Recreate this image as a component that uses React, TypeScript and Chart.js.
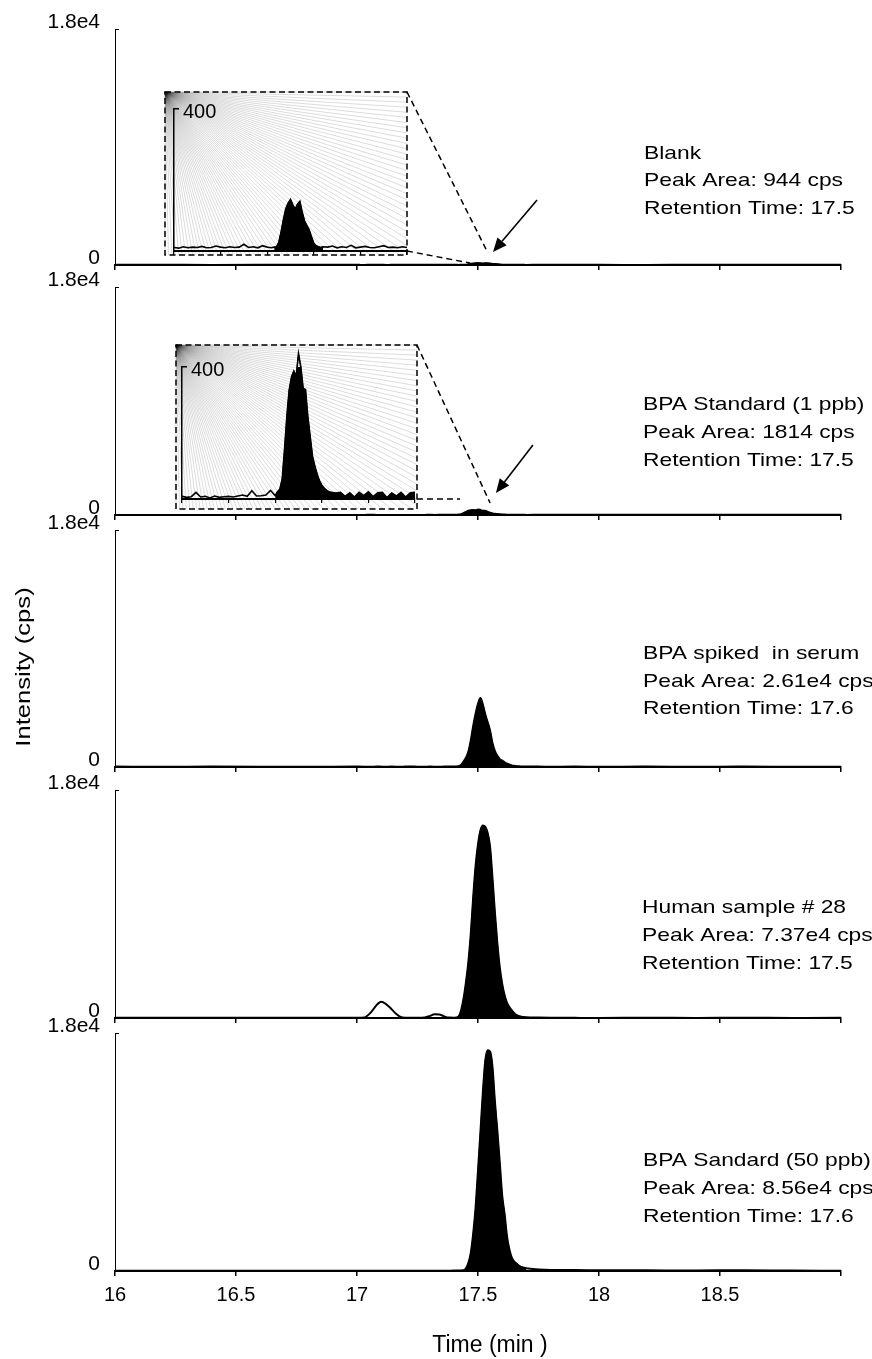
import React, { useEffect, useRef } from "react";
import { Chart, registerables } from "chart.js";
Chart.register(...registerables);

const FONT = '"Liberation Sans", Arial, Helvetica, sans-serif';
Chart.defaults.font.family = FONT;
Chart.defaults.color = "#000";

// ---------------- data ----------------
const TIME = [
  16.0, 16.2, 16.4, 16.6, 16.8, 17.0, 17.03, 17.06, 17.08, 17.1, 17.12, 17.14, 17.16, 17.18, 17.2, 17.25,
  17.28, 17.3, 17.32, 17.34, 17.36, 17.38,
  17.4, 17.41, 17.42, 17.43, 17.44, 17.45, 17.46, 17.47, 17.48, 17.49, 17.5, 17.51, 17.52, 17.53, 17.54,
  17.55, 17.56, 17.57, 17.58, 17.59, 17.6, 17.61, 17.62, 17.63, 17.64, 17.65, 17.66, 17.67, 17.68, 17.69, 17.7,
  17.75, 17.8, 17.9, 18.0, 18.2, 18.4, 18.6, 18.8, 19.0,
];

const BLANK = [
  10, 12, 9, 11, 10, 10, 9, 11, 10, 12, 9, 10, 11, 10, 10, 12, 10, 11, 19, 10, 12, 11,
  11, 10, 9, 11, 12, 25, 55, 90, 120, 135, 145, 130, 118, 132, 140, 110, 85, 72, 60, 40, 22, 15, 12, 10, 12, 11, 11, 13, 14, 10, 9,
  12, 10, 11, 10, 9, 11, 10, 12, 10,
];

const STD_1PPB = [
  6, 8, 5, 7, 6, 8, 6, 20, 6, 8, 3, 9, 5, 7, 8, 9, 8, 25, 9, 10, 12, 26,
  10, 22, 30, 60, 150, 250, 330, 370, 388, 372, 440, 400, 335, 332, 250, 190, 130, 100, 75, 55, 42, 33, 27, 22, 20, 19, 18, 19, 20, 14, 8,
  20, 22, 20, 20, 15, 12, 10, 12, 10,
];

const SERUM_SPIKED = [
  30, 25, 30, 28, 25, 30, 28, 25, 30, 28, 25, 30, 28, 25, 30, 28, 25, 30, 28, 25, 30, 35,
  40, 45, 60, 150, 400, 700, 1150, 2000, 3100, 4050, 4800, 5250, 4750, 4000, 3400, 2750, 1800, 1200, 850, 600, 480, 350, 250, 180, 120, 90, 60, 50, 40, 35, 30,
  30, 25, 30, 25, 30, 25, 30, 25, 20,
];

const HUMAN_28 = [
  20, 15, 20, 15, 20, 10, 40, 500, 1000, 1280, 1100, 750, 350, 80, 20, 10, 40, 150, 300, 280, 130, 30,
  20, 40, 120, 600, 1500, 2800, 4400, 6600, 9500, 12000, 13700, 14800, 15200, 15100, 14600, 13500, 11000, 8300, 5900, 4000, 2700, 1800, 1200, 850, 600, 380, 220, 150, 100, 70, 50,
  30, 20, 10, 5, 20, 5, 15, 5, 10,
];

const STD_50PPB = [
  20, 15, 20, 15, 20, 15, 20, 15, 20, 15, 20, 15, 20, 15, 20, 15, 20, 15, 20, 15, 20, 25,
  30, 35, 40, 45, 50, 200, 600, 1350, 2800, 4800, 7600, 10500, 13500, 15900, 16700, 16600, 15400, 12800, 10600, 8200, 5700, 4300, 2600, 1600, 1000, 700, 550, 400, 300, 250, 200,
  120, 80, 70, 60, 50, 40, 60, 30, 20,
];

const SERIES = [BLANK, STD_1PPB, SERUM_SPIKED, HUMAN_28, STD_50PPB];
const PEAK_WINDOWS = [
  [17.43, 17.64],
  [17.4, 17.7],
  [17.4, 17.7],
  [17.4, 17.7],
  [17.4, 17.7],
];

const INSET_TIME = [
  17.0, 17.02, 17.04, 17.06, 17.08, 17.1, 17.12, 17.14, 17.16, 17.18, 17.2, 17.22, 17.24, 17.26, 17.28, 17.3,
  17.32, 17.34, 17.36, 17.38, 17.4,
  17.41, 17.42, 17.43, 17.44, 17.45, 17.46, 17.47, 17.48, 17.49, 17.5, 17.51, 17.52, 17.53, 17.54, 17.55,
  17.56, 17.57, 17.58, 17.59, 17.6, 17.61, 17.62, 17.63, 17.64,
  17.66, 17.68, 17.7, 17.72, 17.74, 17.76, 17.78, 17.8, 17.82, 17.84, 17.86, 17.88, 17.9, 17.92, 17.94, 17.96, 17.98, 18.0,
];

const INSET_BLANK = [
  10, 8, 12, 9, 11, 10, 13, 9, 10, 14, 11, 9, 12, 10, 11, 19, 10, 12, 9, 15, 11,
  10, 9, 11, 12, 25, 55, 90, 120, 135, 145, 130, 118, 132, 140, 110, 85, 72, 60, 40, 22, 15, 12, 10, 12,
  11, 14, 9, 12, 10, 16, 9, 11, 13, 10, 9, 12, 15, 10, 11, 9, 12, 10,
];

const INSET_STD_1PPB = [
  8, 5, 7, 20, 6, 8, 3, 9, 5, 7, 8, 6, 9, 12, 8, 25, 9, 10, 12, 26, 10,
  22, 30, 60, 150, 250, 330, 370, 388, 372, 440, 400, 335, 332, 250, 190, 130, 100, 75, 55, 42, 33, 27, 22, 20,
  18, 20, 8, 19, 6, 20, 10, 22, 7, 19, 20, 4, 18, 9, 20, 6, 19, 20,
];

const X_TICKS = [16, 16.5, 17, 17.5, 18, 18.5, 19];
const X_TICK_LABELS = ["16", "16.5", "17", "17.5", "18", "18.5", ""];
const Y_TICKS = [0, 18000];
const Y_TICK_LABELS = ["0", "1.8e4"];
const INSET_X_TICKS = [17, 17.2, 17.4, 17.6, 17.8, 18];
const INSET_Y_TICKS = [0, 400];
const INSET_Y_TICK_LABELS = ["", "400"];

const PANEL_TEXT = [
  ["Blank", "Peak Area: 944 cps", "Retention Time: 17.5"],
  ["BPA Standard (1 ppb)", "Peak Area: 1814 cps", "Retention Time: 17.5"],
  ["BPA spiked  in serum", "Peak Area: 2.61e4 cps", "Retention Time: 17.6"],
  ["Human sample # 28", "Peak Area: 7.37e4 cps", "Retention Time: 17.5"],
  ["BPA Sandard (50 ppb)", "Peak Area: 8.56e4 cps", "Retention Time: 17.6"],
];
const Y_TITLE = "Intensity (cps)";
const X_TITLE = "Time (min )";

// ---------------- layout ----------------
const PAGE_W = 872;
const PAGE_H = 1359;
const PLOT_LEFT = 115;
const PLOT_RIGHT = 841;
const PAD_TOP = 26;
const PANEL_TOP = [29, 287, 530, 790, 1033];
const PANEL_BOTTOM = [265, 515, 767, 1018, 1271];
const TEXT_X = [644, 643, 643, 642, 643];
const TEXT_Y = [
  [152.5, 179.5, 207.5],
  [403, 431, 459],
  [652, 680, 707],
  [906, 934.5, 962.5],
  [1159, 1187, 1215],
];

// zoom insets: box / plot in page pixels, anchors in data units of the main panel
const ZOOMS = [
  {
    panel: 0,
    values: INSET_BLANK,
    fill: [17.43, 17.64],
    box: { l: 165, t: 92, r: 407, b: 255 },
    plot: { l: 174, t: 109, r: 407, b: 251 },
    topAnchor: [17.541, 915],
    bottomAnchor: [17.467, 150],
    arrowFrom: [17.744, 4958],
    arrowTo: [17.562, 992],
  },
  {
    panel: 1,
    values: INSET_STD_1PPB,
    fill: [17.4, 18.0],
    box: { l: 176, t: 345, r: 417, b: 509 },
    plot: { l: 182, t: 367, r: 415, b: 499 },
    topAnchor: [17.55, 947],
    bottomAnchor: [17.426, 1263],
    arrowFrom: [17.727, 5526],
    arrowTo: [17.574, 1737],
  },
];

function panelGeo(i: number) {
  const top = PANEL_TOP[i] - PAD_TOP;
  const bottom = i < 4 ? PANEL_BOTTOM[i] + 10 : PAGE_H;
  return { top, h: bottom - top };
}

function insetGeo(z: any) {
  const left = z.box.l - 3;
  const top = z.box.t - 3;
  const w = z.box.r - z.box.l + 6;
  const h = z.box.b - z.box.t + 6;
  return { left, top, w, h };
}

function zeroPad(s: any) {
  s.paddingTop = 0;
  s.paddingBottom = 0;
  s.paddingLeft = 0;
  s.paddingRight = 0;
}

function drawStretchedText(ctx: any, text: string, x: number, y: number, size: number, sx: number, align = "left") {
  ctx.save();
  ctx.font = `${size}px ${FONT}`;
  ctx.fillStyle = "#000";
  ctx.textBaseline = "alphabetic";
  ctx.textAlign = align;
  ctx.translate(x, y + 0.358 * size);
  ctx.scale(sx, 1);
  ctx.fillText(text, 0, 0);
  ctx.restore();
}

function panelDecor(i: number, canvasTop: number) {
  return {
    id: "panelDecor" + i,
    afterDraw(chart: any) {
      const ctx = chart.ctx;
      const xs = chart.scales.x;
      const ys = chart.scales.y;
      PANEL_TEXT[i].forEach((line, k) => {
        drawStretchedText(ctx, line, TEXT_X[i], TEXT_Y[i][k] - canvasTop, 19, 1.2);
      });
      const z = ZOOMS.find((q) => q.panel === i);
      if (z) {
        ctx.save();
        ctx.strokeStyle = "#000";
        ctx.lineWidth = 1.5;
        ctx.setLineDash([6, 4]);
        ctx.beginPath();
        ctx.moveTo(z.box.r, z.box.t - canvasTop);
        ctx.lineTo(xs.getPixelForValue(z.topAnchor[0]), ys.getPixelForValue(z.topAnchor[1]));
        ctx.moveTo(z.box.r, z.plot.b - canvasTop);
        ctx.lineTo(xs.getPixelForValue(z.bottomAnchor[0]), ys.getPixelForValue(z.bottomAnchor[1]));
        ctx.stroke();
        ctx.setLineDash([]);
        const x1 = xs.getPixelForValue(z.arrowFrom[0]);
        const y1 = ys.getPixelForValue(z.arrowFrom[1]);
        const x2 = xs.getPixelForValue(z.arrowTo[0]);
        const y2 = ys.getPixelForValue(z.arrowTo[1]);
        const ang = Math.atan2(y2 - y1, x2 - x1);
        const hl = 14;
        const hw = 6;
        const bx = x2 - hl * Math.cos(ang);
        const by = y2 - hl * Math.sin(ang);
        ctx.lineWidth = 1.6;
        ctx.beginPath();
        ctx.moveTo(x1, y1);
        ctx.lineTo(bx, by);
        ctx.stroke();
        ctx.fillStyle = "#000";
        ctx.beginPath();
        ctx.moveTo(x2, y2);
        ctx.lineTo(bx + hw * Math.sin(ang), by - hw * Math.cos(ang));
        ctx.lineTo(bx - hw * Math.sin(ang), by + hw * Math.cos(ang));
        ctx.closePath();
        ctx.fill();
        ctx.restore();
      }
      if (i === 2) {
        ctx.save();
        ctx.translate(24, 667 - canvasTop);
        ctx.rotate(-Math.PI / 2);
        ctx.scale(1.28, 1);
        ctx.font = `20px ${FONT}`;
        ctx.fillStyle = "#000";
        ctx.textAlign = "center";
        ctx.textBaseline = "middle";
        ctx.fillText(Y_TITLE, 0, 0);
        ctx.restore();
      }
      if (i === 4) {
        drawStretchedText(ctx, X_TITLE, 490, 1344 - canvasTop, 23, 1.0, "center");
      }
    },
  };
}

function insetDecor(z: any, g: any) {
  const bl = z.box.l - g.left;
  const bt = z.box.t - g.top;
  const bw = z.box.r - z.box.l;
  const bh = z.box.b - z.box.t;
  return {
    id: "insetDecor",
    beforeDraw(chart: any) {
      const ctx = chart.ctx;
      ctx.save();
      ctx.strokeStyle = "rgba(0,0,0,0.24)";
      ctx.lineWidth = 0.6;
      const step = (1.2 * Math.PI) / 180;
      for (let a = 0; a <= Math.PI / 2 + 1e-6; a += step) {
        const c = Math.cos(a);
        const s = Math.sin(a);
        const tR = c > 1e-6 ? bw / c : Infinity;
        const tB = s > 1e-6 ? bh / s : Infinity;
        const t = Math.min(tR, tB);
        ctx.beginPath();
        ctx.moveTo(bl, bt);
        ctx.lineTo(bl + c * t, bt + s * t);
        ctx.stroke();
      }
      ctx.restore();
    },
    afterDraw(chart: any) {
      const ctx = chart.ctx;
      ctx.save();
      ctx.strokeStyle = "#000";
      ctx.lineWidth = 1.5;
      ctx.setLineDash([6, 3.5]);
      ctx.strokeRect(bl, bt, bw, bh);
      ctx.restore();
    },
  };
}

function panelConfig(i: number): any {
  const g = panelGeo(i);
  const values = SERIES[i];
  const pts = TIME.map((t, k) => ({ x: t, y: values[k] }));
  const [a, b] = PEAK_WINDOWS[i];
  const peakPts = pts.filter((p) => p.x >= a - 1e-9 && p.x <= b + 1e-9);
  const plotH = PANEL_BOTTOM[i] - PANEL_TOP[i];
  return {
    type: "line",
    data: {
      datasets: [
        {
          data: peakPts,
          fill: "origin",
          backgroundColor: "#000",
          borderColor: "#000",
          borderWidth: 1,
          pointRadius: 0,
          cubicInterpolationMode: "monotone",
        },
        {
          data: pts,
          fill: false,
          borderColor: "#000",
          borderWidth: 2,
          pointRadius: 0,
          cubicInterpolationMode: "monotone",
        },
      ],
    },
    options: {
      responsive: false,
      animation: false,
      devicePixelRatio: 1,
      events: [],
      layout: { autoPadding: false, padding: { top: PAD_TOP, left: 0, right: PAGE_W - PLOT_RIGHT, bottom: 0 } },
      plugins: { legend: { display: false }, tooltip: { enabled: false }, title: { display: false } },
      scales: {
        x: {
          type: "linear",
          min: 16,
          max: 19,
          afterBuildTicks: (s: any) => {
            s.ticks = X_TICKS.map((v) => ({ value: v }));
          },
          afterFit: (s: any) => {
            s.height = g.h - PAD_TOP - plotH;
            zeroPad(s);
          },
          grid: { drawOnChartArea: false, tickLength: 5, lineWidth: 1.5, color: "#000" },
          border: { color: "#000", width: 2 },
          ticks: {
            display: i === 4,
            padding: 7,
            maxRotation: 0,
            autoSkip: false,
            font: { size: 20, family: FONT },
            color: "#000",
            callback: (_v: any, idx: number) => X_TICK_LABELS[idx],
          },
        },
        y: {
          type: "linear",
          min: 0,
          max: 18000,
          afterBuildTicks: (s: any) => {
            s.ticks = Y_TICKS.map((v) => ({ value: v }));
          },
          afterFit: (s: any) => {
            s.width = PLOT_LEFT;
            zeroPad(s);
          },
          grid: { drawOnChartArea: false, tickLength: -4, lineWidth: 1, color: "#000" },
          border: { color: "#000", width: 1 },
          ticks: {
            padding: 19,
            labelOffset: -7,
            font: { size: 21, family: FONT },
            color: "#000",
            callback: (_v: any, idx: number) => Y_TICK_LABELS[idx],
          },
        },
      },
    },
    plugins: [panelDecor(i, g.top)],
  };
}

function insetConfig(z: any): any {
  const g = insetGeo(z);
  const pts = INSET_TIME.map((t, k) => ({ x: t, y: z.values[k] }));
  const fillPts = pts.filter((p) => p.x >= z.fill[0] - 1e-9 && p.x <= z.fill[1] + 1e-9);
  return {
    type: "line",
    data: {
      datasets: [
        {
          data: fillPts,
          fill: "origin",
          backgroundColor: "#000",
          borderColor: "#000",
          borderWidth: 1,
          pointRadius: 0,
          tension: 0,
          clip: false,
        },
        {
          data: pts,
          fill: false,
          borderColor: "#000",
          borderWidth: 1.6,
          pointRadius: 0,
          tension: 0,
          clip: false,
        },
      ],
    },
    options: {
      responsive: false,
      animation: false,
      devicePixelRatio: 1,
      events: [],
      layout: {
        autoPadding: false,
        padding: {
          left: z.plot.l - g.left,
          top: z.plot.t - g.top,
          right: g.left + g.w - z.plot.r,
          bottom: g.top + g.h - z.plot.b,
        },
      },
      plugins: { legend: { display: false }, tooltip: { enabled: false }, title: { display: false } },
      scales: {
        x: {
          type: "linear",
          min: 17,
          max: 18,
          afterBuildTicks: (s: any) => {
            s.ticks = INSET_X_TICKS.map((v) => ({ value: v }));
          },
          afterFit: (s: any) => {
            s.height = 0;
            zeroPad(s);
          },
          grid: { drawOnChartArea: false, tickLength: 4, lineWidth: 1.2, color: "#000" },
          border: { color: "#000", width: 2 },
          ticks: { display: false },
        },
        y: {
          type: "linear",
          min: 0,
          max: 400,
          afterBuildTicks: (s: any) => {
            s.ticks = INSET_Y_TICKS.map((v) => ({ value: v }));
          },
          afterFit: (s: any) => {
            s.width = 0;
            zeroPad(s);
          },
          grid: { drawOnChartArea: false, tickLength: -5, lineWidth: 1.5, color: "#000" },
          border: { color: "#000", width: 1.5 },
          ticks: {
            mirror: true,
            padding: 9,
            labelOffset: 3,
            font: { size: 20, family: FONT },
            color: "#000",
            callback: (_v: any, idx: number) => INSET_Y_TICK_LABELS[idx],
          },
        },
      },
    },
    plugins: [insetDecor(z, g)],
  };
}

export default function App() {
  const panelRefs = useRef<(HTMLCanvasElement | null)[]>([]);
  const insetRefs = useRef<(HTMLCanvasElement | null)[]>([]);

  useEffect(() => {
    const charts: any[] = [];
    SERIES.forEach((_s, i) => {
      const c = panelRefs.current[i];
      if (c) charts.push(new Chart(c, panelConfig(i)));
    });
    ZOOMS.forEach((z, k) => {
      const c = insetRefs.current[k];
      if (c) charts.push(new Chart(c, insetConfig(z)));
    });
    return () => charts.forEach((ch) => ch.destroy());
  }, []);

  return (
    <div
      style={{
        position: "absolute",
        left: 0,
        top: 0,
        width: PAGE_W,
        height: PAGE_H,
        overflow: "hidden",
        background: "#fff",
      }}
    >
      {SERIES.map((_s, i) => {
        const g = panelGeo(i);
        return (
          <canvas
            key={"p" + i}
            ref={(el) => {
              panelRefs.current[i] = el;
            }}
            width={PAGE_W}
            height={g.h}
            style={{ position: "absolute", left: 0, top: g.top, width: PAGE_W, height: g.h, display: "block" }}
          />
        );
      })}
      {ZOOMS.map((z, k) => {
        const g = insetGeo(z);
        return (
          <canvas
            key={"z" + k}
            ref={(el) => {
              insetRefs.current[k] = el;
            }}
            width={g.w}
            height={g.h}
            style={{ position: "absolute", left: g.left, top: g.top, width: g.w, height: g.h, display: "block" }}
          />
        );
      })}
    </div>
  );
}
